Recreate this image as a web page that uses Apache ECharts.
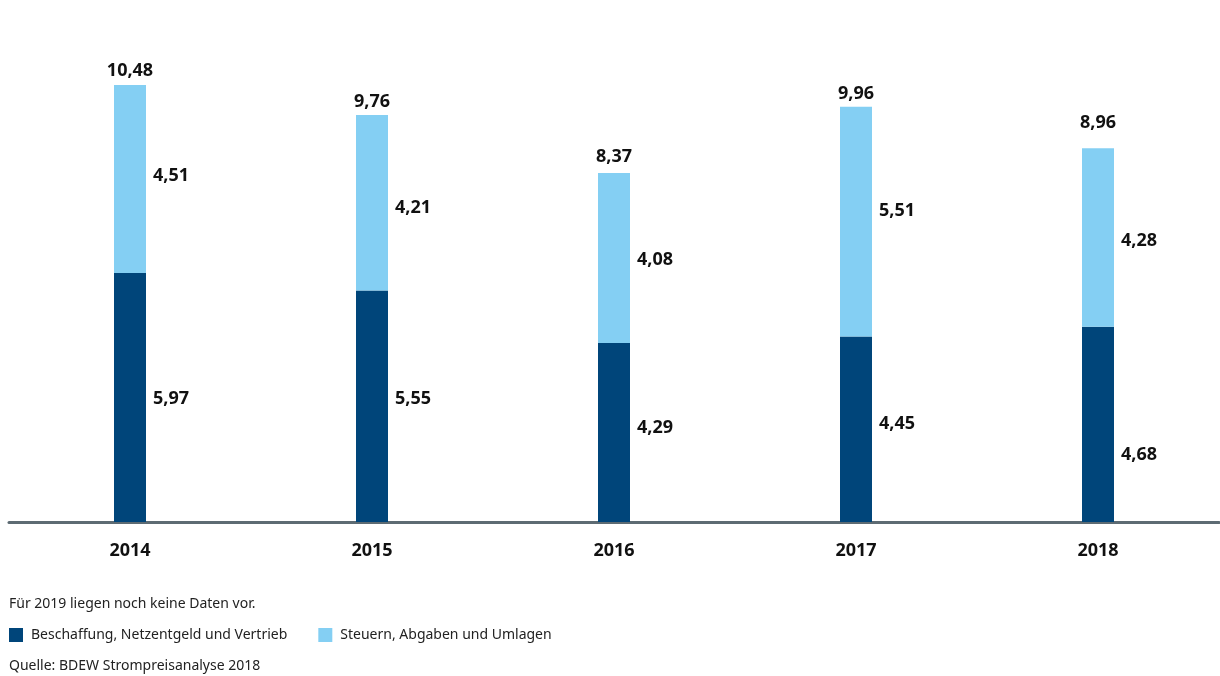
<!DOCTYPE html>
<html><head><meta charset="utf-8">
<script src="https://cdn.jsdelivr.net/npm/echarts@6/dist/echarts.min.js"></script>
<style>html,body{margin:0;padding:0;background:#fff}#c{width:1220px;height:676px}</style>
</head><body><div id="c"></div>
<script>
var years = ['2014','2015','2016','2017','2018'];
var beschaffung = [5.97, 5.55, 4.29, 4.45, 4.68];
var steuern = [4.51, 4.21, 4.08, 5.51, 4.28];
var totals = [10.48, 9.76, 8.37, 9.96, 8.96];
var seriesNames = ['Beschaffung, Netzentgeld und Vertrieb', 'Steuern, Abgaben und Umlagen'];
var noteText = 'Für 2019 liegen noch keine Daten vor.';
var sourceText = 'Quelle: BDEW Strompreisanalyse 2018';

// label placement tweaks (vertical pixel shifts as in the original layout)
var darkLabelShift = [1, -7, -5, -5, 30];
var lightLabelShift = [-3, 5, 2, -11, 3];
var totalLabelShift = [-1, 0, -3, 0, -12];

var FONT = 'Noto Sans';
function fmt(v){ return v.toFixed(2).replace('.', ','); }
function items(vals, shifts){
  return vals.map(function(v, i){ return {value: v, label: {offset: [0, shifts[i]]}}; });
}
var valueLabel = {show: true, fontFamily: FONT, fontWeight: 'bold', fontSize: 18, color: '#111', opacity: 1,
  formatter: function(p){ return fmt(p.value); }};
var chart = echarts.init(document.getElementById('c'));
chart.setOption({
  animation: false,
  textStyle: {fontFamily: FONT},
  grid: {left: 9, right: 1, top: 21.6, bottom: 154},
  xAxis: {
    type: 'category', data: years,
    axisLine: {lineStyle: {color: '#5d6b73', width: 3}},
    axisTick: {show: false},
    axisLabel: {fontFamily: FONT, fontWeight: 'bold', fontSize: 18, color: '#111', margin: 20}
  },
  yAxis: {type: 'value', min: 0, max: 12, show: false, splitLine: {show: false}},
  legend: {
    left: 4, top: 623, itemWidth: 14, itemHeight: 14, itemGap: 31,
    icon: 'rect', selectedMode: false,
    textStyle: {fontFamily: FONT, fontSize: 14, color: '#222', padding: [0, 0, 0, 3]},
    data: seriesNames
  },
  series: [
    {name: seriesNames[0], type: 'bar', stack: 's', barWidth: 32, data: items(beschaffung, darkLabelShift),
     itemStyle: {color: '#00457a'},
     label: Object.assign({position: 'right', distance: 7}, valueLabel)},
    {name: seriesNames[1], type: 'bar', stack: 's', barWidth: 32, data: items(steuern, lightLabelShift),
     itemStyle: {color: '#84cff3'},
     label: Object.assign({position: 'right', distance: 7}, valueLabel)},
    {name: 'Gesamt', type: 'scatter', data: items(totals, totalLabelShift), symbolSize: 0,
     itemStyle: {color: '#111', opacity: 1}, silent: true,
     label: Object.assign({position: 'top', distance: 4}, valueLabel)}
  ],
  graphic: [
    {type: 'text', left: 9, top: 597, style: {text: noteText, font: '14px "Noto Sans"', fill: '#222'}},
    {type: 'text', left: 9, top: 659, style: {text: sourceText, font: '14px "Noto Sans"', fill: '#222'}}
  ]
});
</script></body></html>
